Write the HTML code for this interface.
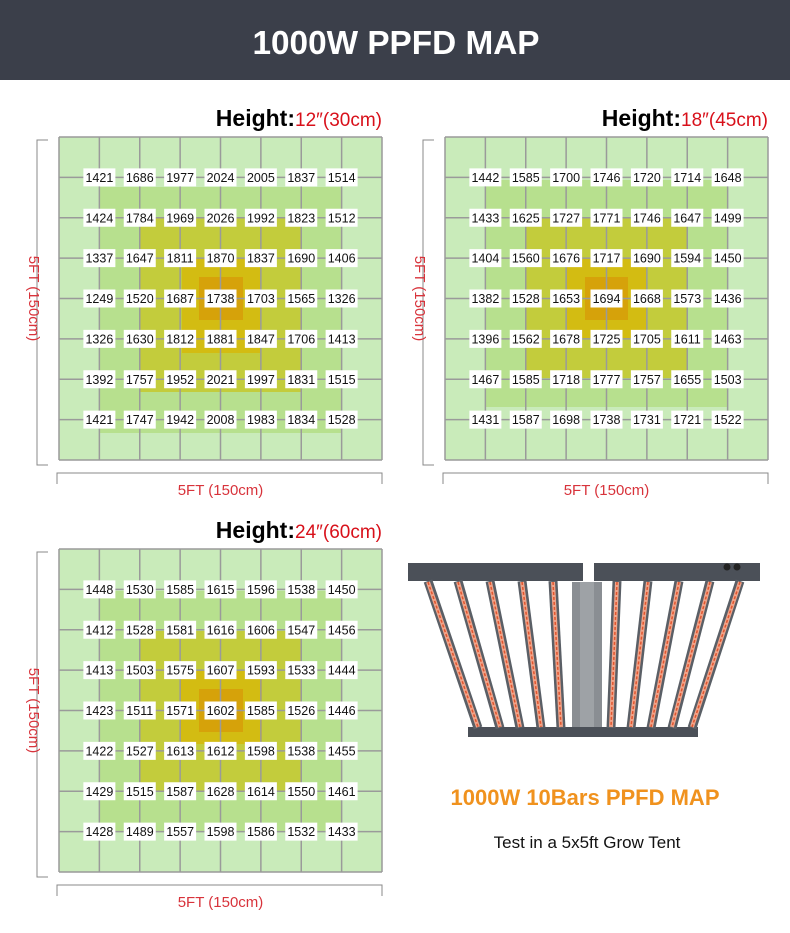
<!DOCTYPE html>
<html><head><meta charset="utf-8"><style>
body{margin:0;width:790px;height:933px;background:#fff;overflow:hidden;font-family:"Liberation Sans",sans-serif}
svg{display:block}
</style></head><body>
<svg id="s" width="790" height="933" xmlns="http://www.w3.org/2000/svg">
<rect x="0" y="0" width="790" height="80" fill="#3b3f4a"/>
<text x="396" y="54" text-anchor="middle" font-family="Liberation Sans" font-weight="bold" font-size="33" fill="#fff" textLength="287" lengthAdjust="spacingAndGlyphs">1000W PPFD MAP</text>
</svg>
<script>
const s=document.getElementById('s');let h='';
const D1=[[1421,1686,1977,2024,2005,1837,1514],[1424,1784,1969,2026,1992,1823,1512],[1337,1647,1811,1870,1837,1690,1406],[1249,1520,1687,1738,1703,1565,1326],[1326,1630,1812,1881,1847,1706,1413],[1392,1757,1952,2021,1997,1831,1515],[1421,1747,1942,2008,1983,1834,1528]];
const D2=[[1442,1585,1700,1746,1720,1714,1648],[1433,1625,1727,1771,1746,1647,1499],[1404,1560,1676,1717,1690,1594,1450],[1382,1528,1653,1694,1668,1573,1436],[1396,1562,1678,1725,1705,1611,1463],[1467,1585,1718,1777,1757,1655,1503],[1431,1587,1698,1738,1731,1721,1522]];
const D3=[[1448,1530,1585,1615,1596,1538,1450],[1412,1528,1581,1616,1606,1547,1456],[1413,1503,1575,1607,1593,1533,1444],[1423,1511,1571,1602,1585,1526,1446],[1422,1527,1613,1612,1598,1538,1455],[1429,1515,1587,1628,1614,1550,1461],[1428,1489,1557,1598,1586,1532,1433]];
function grid(ox,oy,D,Z,ht,hr){
 const W=323,c=W/8;
 h+=`<rect x="${ox}" y="${oy}" width="${W}" height="${W}" fill="#c9ebba"/>`;
 const cols=['#b7e08e','#c3cc3c','#d3bc12','#d6a20a'];
 Z.forEach((z,i)=>{h+=`<rect x="${ox+z[0]}" y="${oy+z[1]}" width="${z[2]-z[0]}" height="${z[3]-z[1]}" fill="${cols[i]}"/>`});
 for(let k=0;k<=8;k++){h+=`<line x1="${ox+k*c}" y1="${oy}" x2="${ox+k*c}" y2="${oy+W}" stroke="#9a9a9a" stroke-width="1.5"/><line x1="${ox}" y1="${oy+k*c}" x2="${ox+W}" y2="${oy+k*c}" stroke="#9a9a9a" stroke-width="1.5"/>`;}
 D.forEach((r,j)=>r.forEach((v,i)=>{const x=ox+(i+1)*c,y=oy+(j+1)*c;h+=`<rect x="${x-16}" y="${y-9}" width="32" height="18" fill="#fff"/><text x="${x}" y="${y+4.5}" text-anchor="middle" font-size="12.5" fill="#111">${v}</text>`}));
 h+=`<path d="M${ox-11} ${oy+3}H${ox-22}V${oy+W+5}H${ox-11}" fill="none" stroke="#888" stroke-width="1"/>`;
 h+=`<text transform="translate(${ox-30} ${oy+W/2}) rotate(90)" text-anchor="middle" font-size="15" fill="#d8333b">5FT (150cm)</text>`;
 h+=`<path d="M${ox-2} ${oy+W+24}V${oy+W+13}H${ox+W}V${oy+W+24}" fill="none" stroke="#888" stroke-width="1"/>`;
 h+=`<text x="${ox+W/2}" y="${oy+W+35}" text-anchor="middle" font-size="15" fill="#d8333b">5FT (150cm)</text>`;
 h+=`<text x="${ox+W}" y="${oy-11}" text-anchor="end"><tspan font-size="23" font-weight="bold" fill="#000">Height:</tspan><tspan font-size="19" fill="#d8101a">${hr}</tspan></text>`;
}
grid(59,137,D1,[[41,50,283,296],[81,81,243,255],[123,121,201,216],[140,140,184,183]],0,'12″(30cm)');
grid(445,137,D2,[[40,43,283,270],[81,80,242,241],[122,121,201,201],[140,140,183,183]],0,'18″(45cm)');
grid(59,549,D3,[[41,42,283,282],[81,82,243,243],[121,122,203,195],[140,140,184,183]],0,'24″(60cm)');
h+=`<rect x="408" y="563" width="175" height="18" fill="#4b5058"/><rect x="594" y="563" width="166" height="18" fill="#4b5058"/>`;
h+=`<rect x="572" y="582" width="30" height="152" fill="#8a8e93"/><rect x="580" y="582" width="14" height="152" fill="#9ea2a6"/>`;
h+=`<rect x="468" y="727" width="230" height="10" fill="#4b5058"/>`;
h+=`<circle cx="727" cy="567" r="3.5" fill="#222"/><circle cx="737" cy="567" r="3.5" fill="#222"/>`;
const tops=[428,458,490,522,553,617,648,679,710,740],bots=[478,500,520,541,561,611,631,651,672,692];
for(let i=0;i<10;i++){h+=`<line x1="${tops[i]}" y1="581" x2="${bots[i]}" y2="728" stroke="#5a5f66" stroke-width="9"/><line x1="${tops[i]}" y1="582" x2="${bots[i]}" y2="727" stroke="#f0a48a" stroke-width="4"/><line x1="${tops[i]}" y1="582" x2="${bots[i]}" y2="727" stroke="#e2552e" stroke-width="1.5" stroke-dasharray="3 2"/>`}
h+=`<text x="585" y="805" text-anchor="middle" font-size="22" font-weight="bold" fill="#f0921e">1000W 10Bars PPFD MAP</text>`;
h+=`<text x="587" y="848" text-anchor="middle" font-size="17" fill="#111">Test in a 5x5ft Grow Tent</text>`;
s.insertAdjacentHTML('beforeend',h);
</script>
</body></html>
